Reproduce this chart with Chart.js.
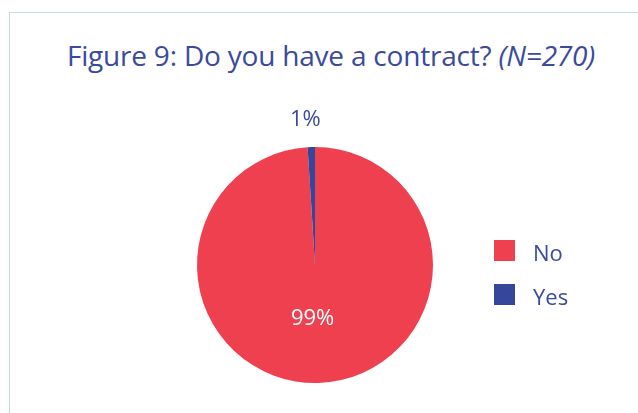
<!DOCTYPE html>
<html>
<head>
<meta charset="utf-8">
<script src="https://cdn.jsdelivr.net/npm/chart.js@4"></script>
<style>
  html, body { margin: 0; padding: 0; background: #fff; }
  body { width: 638px; height: 413px; position: relative; overflow: hidden; font-family: "Open Sans", "Noto Sans", sans-serif; }
  #frame { position: absolute; left: 9px; top: 12px; width: 700px; height: 500px; border: 1.5px solid #c9dcdc; box-sizing: border-box; }
  #title { position: absolute; left: 0; top: 41px; width: 662px; text-align: center; font-size: 28px; line-height: 28px; color: #3a4a9c; white-space: nowrap; letter-spacing: -0.2px; }
  #title i { font-style: italic; }
  #c { position: absolute; left: 0; top: 0; }
</style>
</head>
<body>
<div id="frame"></div>
<div id="title">Figure 9: Do you have a contract? <i>(N=270)</i></div>
<canvas id="c" width="638" height="413"></canvas>
<script>
const categories = ["No", "Yes"];
const values = [99, 1];
const valueLabels = ["99%", "1%"];
const colors = ["#ef4050", "#35469b"];

const labelPlugin = {
  id: "labelsAndLegend",
  afterDatasetsDraw(chart) {
    const ctx = chart.ctx;
    const meta = chart.getDatasetMeta(0);
    ctx.save();
    ctx.font = '22px "Open Sans", "Noto Sans", sans-serif';
    ctx.textAlign = "center";
    ctx.textBaseline = "alphabetic";
    meta.data.forEach((arc, i) => {
      const p = arc.getProps(["x", "y", "startAngle", "endAngle", "outerRadius"], true);
      const mid = (p.startAngle + p.endAngle) / 2;
      const inside = values[i] > 10;
      const d = inside ? p.outerRadius * 0.44 : p.outerRadius * 1.25;
      const dx = inside ? -4 : -5;
      ctx.fillStyle = inside ? "#ffffff" : "#3a4a9c";
      ctx.fillText(valueLabels[i], p.x + Math.cos(mid) * d + dx, p.y + Math.sin(mid) * d + 8);
    });
    // legend
    const bx = 494, by0 = 240, step = 44, bs = 21;
    ctx.textAlign = "left";
    categories.forEach((c, i) => {
      const by = by0 + i * step;
      ctx.fillStyle = colors[i];
      ctx.fillRect(bx, by, bs, bs);
      ctx.fillStyle = "#3a4a9c";
      ctx.fillText(c, 533, by + 21);
    });
    ctx.restore();
  }
};

new Chart(document.getElementById("c"), {
  type: "pie",
  data: {
    labels: categories,
    datasets: [{ data: values, backgroundColor: colors, borderWidth: 0 }]
  },
  options: {
    responsive: false,
    animation: false,
    layout: { padding: { left: 197, right: 205, top: 147, bottom: 30 } },
    plugins: { legend: { display: false }, tooltip: { enabled: false }, title: { display: false } }
  },
  plugins: [labelPlugin]
});
</script>
</body>
</html>
